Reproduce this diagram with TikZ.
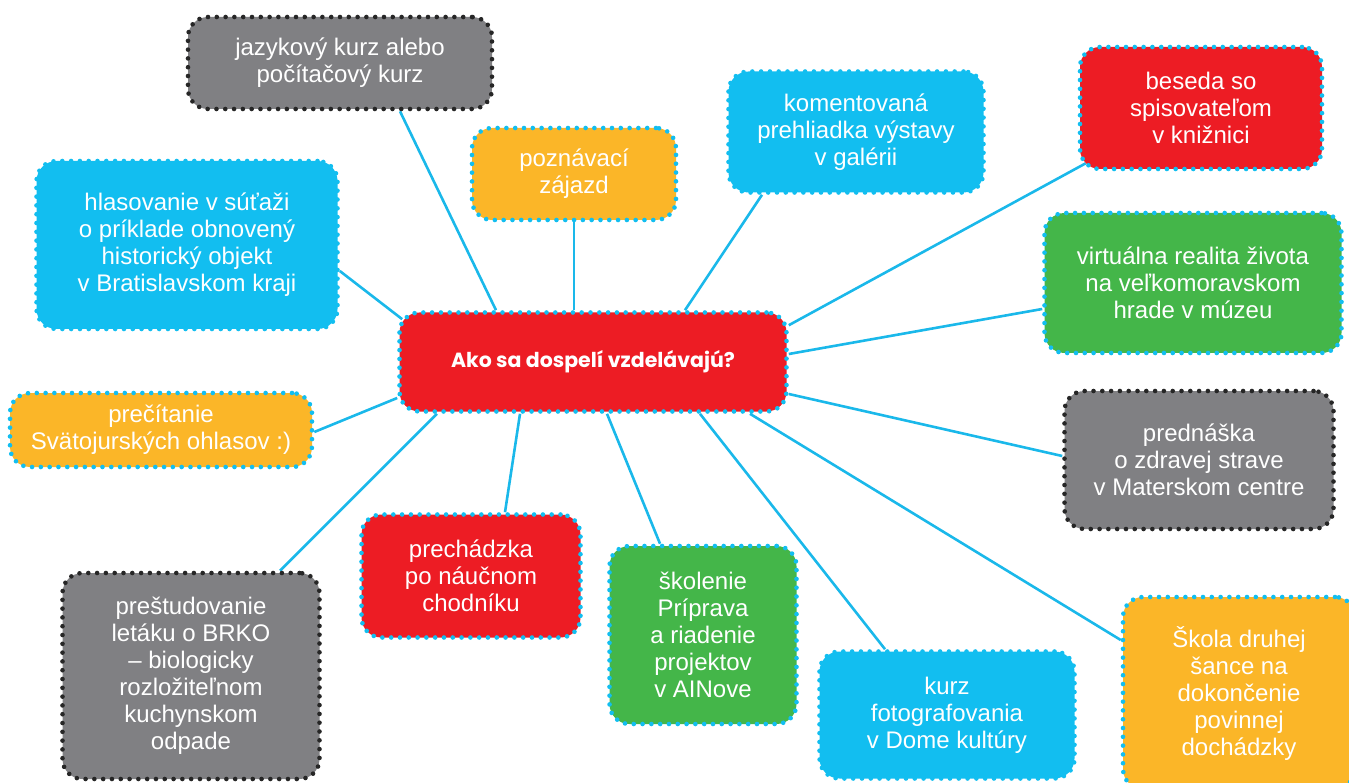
\documentclass[tikz,border=0pt]{standalone}
\usepackage{fontspec}
\setmainfont{Liberation Sans}
\newfontfamily\titlefont{Poppins}
\usetikzlibrary{backgrounds}

\definecolor{mapred}{RGB}{237,28,36}
\definecolor{mapblue}{RGB}{18,190,240}
\definecolor{mapyellow}{RGB}{251,182,40}
\definecolor{mapgreen}{RGB}{68,182,73}
\definecolor{mapgray}{RGB}{128,128,131}
\definecolor{mapline}{RGB}{26,184,234}

\tikzset{
  bubble/.style={rounded corners=20pt, align=center, text=white, inner sep=0pt,
    font=\fontsize{24}{27}\selectfont, line width=4.6pt, line cap=round,
    dash pattern=on 0pt off 8.8pt},
  bluebox/.style={bubble, fill=mapblue, draw=mapblue},
  redbox/.style={bubble, fill=mapred, draw=mapblue},
  yellowbox/.style={bubble, fill=mapyellow, draw=mapblue},
  greenbox/.style={bubble, fill=mapgreen, draw=mapblue},
  graybox/.style={bubble, fill=mapgray, draw=black!85},
  link/.style={draw=mapline, line width=2.6pt}
}

\begin{document}
\begin{tikzpicture}[x=1pt, y=-1pt]
			%%%%% START %%%%%
			\useasboundingbox (0,0) rectangle (1349,783);
			
			\node[redbox, minimum width=387pt, minimum height=99pt, font=\titlefont\bfseries\fontsize{20.5}{24}\selectfont] (q) at (593,362) {Ako sa dospelí vzdelávajú?};
			
			\node[graybox, minimum width=304pt, minimum height=92pt] (jaz) at (340,63) {jazykový kurz alebo\\počítačový kurz};
			\node[yellowbox, minimum width=204pt, minimum height=92pt] (pozn) at (574,174) {poznávací\\zájazd};
			\node[bluebox, minimum width=255pt, minimum height=121pt] (kom) at (856,132) {komentovaná\\prehliadka výstavy\\v galérii};
			\node[redbox, minimum width=242pt, minimum height=122pt] (bes) at (1201,108) {beseda so\\spisovateľom\\v knižnici};
			
			\node[bluebox, minimum width=301pt, minimum height=168pt] (hlas) at (187,245) {hlasovanie v súťaži\\o príklade obnovený\\historický objekt\\v Bratislavskom kraji};
			\node[greenbox, minimum width=297pt, minimum height=140pt] (virt) at (1193,283) {virtuálna realita života\\na veľkomoravskom\\hrade v múzeu};
			\node[yellowbox, minimum width=302pt, minimum height=74pt] (prec) at (161,430) {prečítanie\\Svätojurských ohlasov :)};
			\node[graybox, minimum width=269pt, minimum height=138pt] (pred) at (1199,460) {prednáška\\o zdravej strave\\v Materskom centre};
			
			\node[graybox, minimum width=257pt, minimum height=206pt] (prest) at (191,676) {preštudovanie\\letáku o BRKO\\– biologicky\\rozložiteľnom\\kuchynskom\\odpade};
			\node[redbox, minimum width=219pt, minimum height=123pt] (prech) at (471,576) {prechádzka\\po náučnom\\chodníku};
			\node[greenbox, minimum width=187pt, minimum height=178pt] (skol) at (703,635) {školenie\\Príprava\\a riadenie\\projektov\\v AINove};
			\node[bluebox, minimum width=255pt, minimum height=127pt] (kurz) at (947,715) {kurz\\fotografovania\\v Dome kultúry};
			\node[yellowbox, minimum width=232pt, minimum height=192pt] (skola) at (1239,693) {Škola druhej\\šance na\\dokončenie\\povinnej\\dochádzky};
			
			\begin{scope}[on background layer]
			\draw[link] ([xshift=-97pt]q.north) -- ([xshift=60pt]jaz.south);
			\draw[link] ([xshift=-19pt]q.north) -- (pozn.south);
			\draw[link] ([xshift=92pt]q.north) -- ([xshift=-94pt]kom.south);
			\draw[link] ([yshift=-15pt]q.north east) -- ([xshift=8pt, yshift=8pt]bes.south west);
			\draw[link] ([xshift=5pt, yshift=-9pt]q.north west) -- ([yshift=-26pt]hlas.east);
			\draw[link] ([yshift=8pt]q.east) -- ([yshift=-26pt]virt.west);
			\draw[link] ([yshift=-36pt]q.west) -- ([yshift=-2pt]prec.east);
			\draw[link] ([yshift=-32pt]q.east) -- ([yshift=4pt]pred.west);
			\draw[link] ([xshift=-156pt]q.south) -- ([xshift=89pt]prest.north);
			\draw[link] ([xshift=-73pt]q.south) -- ([xshift=34pt]prech.north);
			\draw[link] ([xshift=14pt]q.south) -- ([xshift=-43pt]skol.north);
			\draw[link] ([xshift=107pt]q.south) -- ([xshift=-62pt]kurz.north);
			\draw[link] ([xshift=157pt]q.south) -- ([yshift=53pt]skola.west);
			\end{scope}
			
			%%%%% END %%%%%
		\end{tikzpicture}
\end{document}
